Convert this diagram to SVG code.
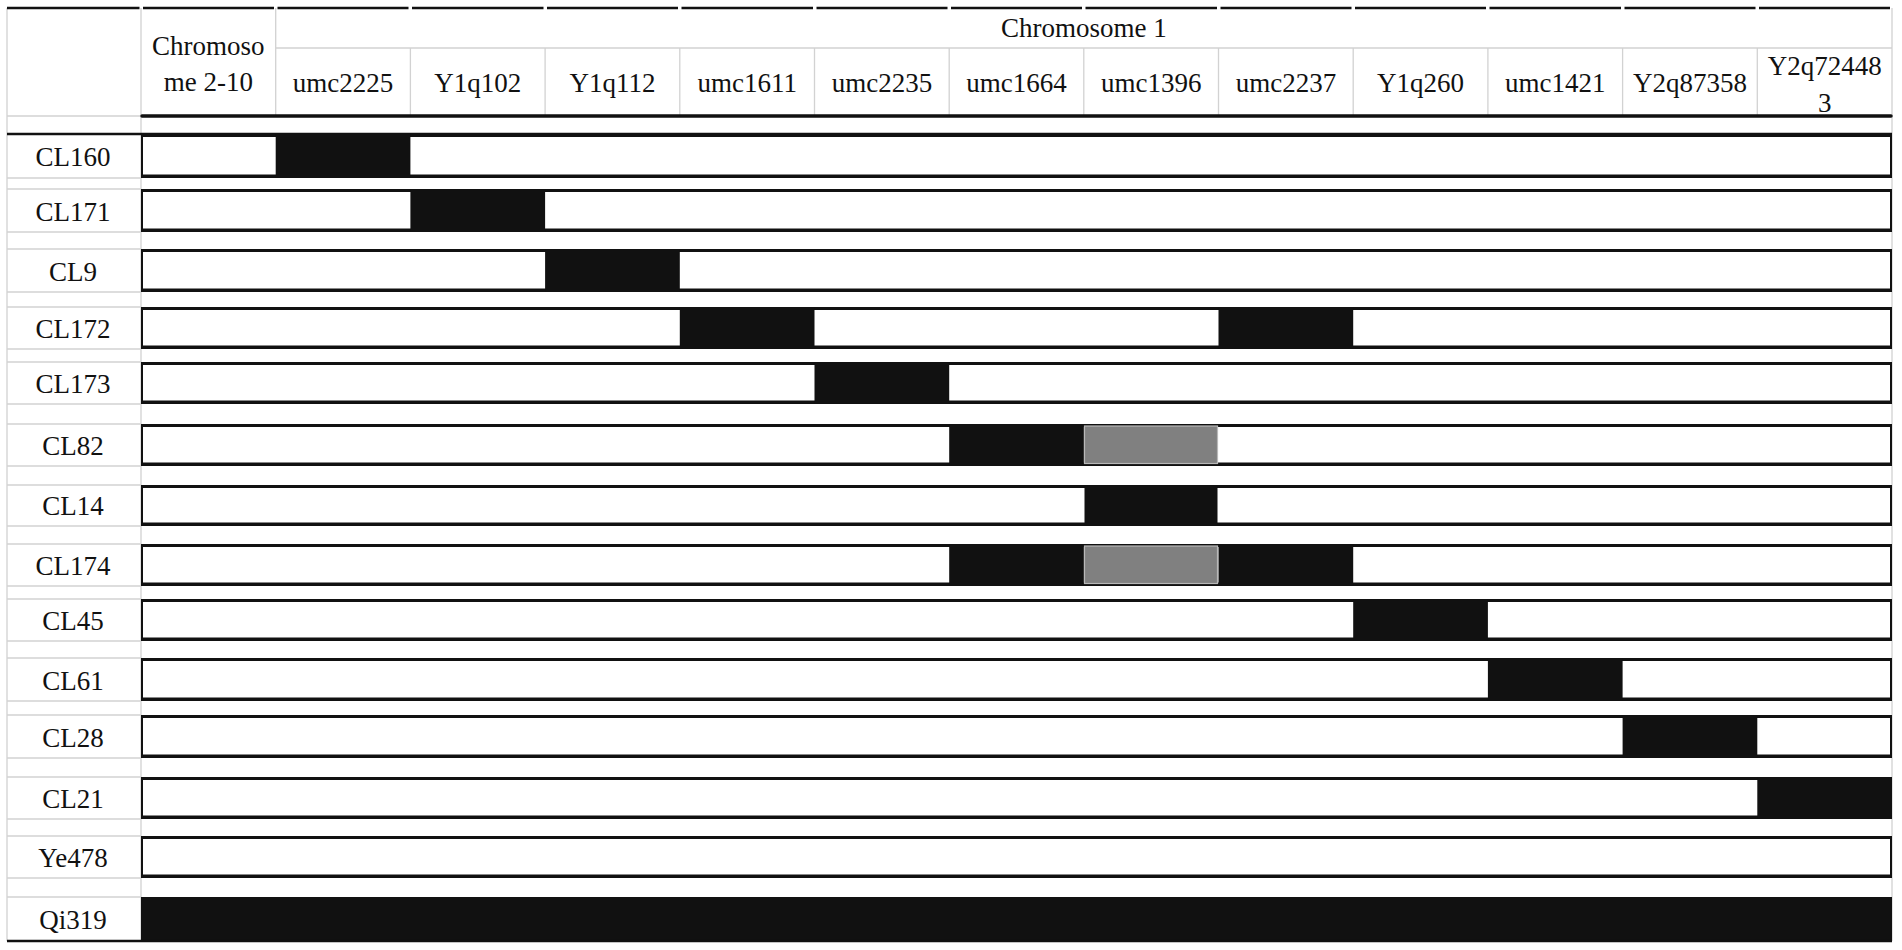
<svg xmlns="http://www.w3.org/2000/svg" width="1902" height="950" viewBox="0 0 1902 950">
<style>
text{font-family:"Liberation Serif","Times New Roman",serif;font-size:27px;fill:#111;text-anchor:middle}
.g{stroke:#d2d2d2;stroke-width:1.3;fill:none}
.k{stroke:#111;fill:none}
.bo{fill:#111}
.bi{fill:#fff}
.blk{fill:#111}
.gry{fill:#808080;stroke:#b8b8b8;stroke-width:1.2}
</style>
<rect x="0" y="0" width="1902" height="950" fill="#fff"/>
<g id="grid">
<path class="g" d="M7 8V941M141 8V941M1892 8V941M275.7 8V116M275.7 48H1892M410.4 48V116M545.1 48V116M679.8 48V116M814.5 48V116M949.2 48V116M1083.8 48V116M1218.5 48V116M1353.2 48V116M1487.9 48V116M1622.6 48V116M1757.3 48V116"/>
<path class="g" d="M7 116H141M7 178H141M7 189H141M7 232H141M7 249H141M7 292H141M7 307H141M7 349H141M7 362H141M7 404H141M7 424H141M7 466H141M7 485H141M7 526H141M7 544H141M7 586H141M7 599H141M7 641H141M7 658H141M7 701H141M7 715H141M7 758H141M7 777H141M7 819H141M7 836H141M7 878H141M7 897H141"/>
<path class="k" stroke-width="2.5" d="M7 8H139.5M143 8H274M277.5 8H408.5M412 8H543.5M547 8H678M681.5 8H813M816.5 8H947.5M951 8H1082M1085.5 8H1217M1220.5 8H1351.5M1355 8H1486M1489.5 8H1621M1624.5 8H1755.5M1759 8H1890"/>
</g>
<g id="header" font-family="Liberation Serif, Times New Roman, serif">
<text x="208.3" y="55">Chromoso</text>
<text x="208.3" y="91">me 2-10</text>
<text x="1083.8" y="37">Chromosome 1</text>
<text x="343" y="92">umc2225</text>
<text x="477.7" y="92">Y1q102</text>
<text x="612.4" y="92">Y1q112</text>
<text x="747.2" y="92">umc1611</text>
<text x="881.9" y="92">umc2235</text>
<text x="1016.5" y="92">umc1664</text>
<text x="1151.2" y="92">umc1396</text>
<text x="1285.9" y="92">umc2237</text>
<text x="1420.6" y="92">Y1q260</text>
<text x="1555.3" y="92">umc1421</text>
<text x="1690" y="92">Y2q87358</text>
<text x="1824.7" y="75">Y2q72448</text>
<text x="1824.7" y="112">3</text>
<path class="k" stroke-width="3.5" stroke-linecap="round" d="M142 116H1891"/>
<path class="k" stroke-width="2.5" d="M7 134H1892"/>
</g>
<g id="row-CL160">
<text x="73" y="166">CL160</text>
<rect class="bo" x="141" y="134" width="1751" height="44"/>
<rect class="bi" x="143" y="137" width="1747" height="37.5"/>
<rect class="blk" x="275.7" y="134" width="134.7" height="44"/>
</g>
<g id="row-CL171">
<text x="73" y="221">CL171</text>
<rect class="bo" x="141" y="189" width="1751" height="43"/>
<rect class="bi" x="143" y="192" width="1747" height="36.5"/>
<rect class="blk" x="410.4" y="189" width="134.7" height="43"/>
</g>
<g id="row-CL9">
<text x="73" y="281">CL9</text>
<rect class="bo" x="141" y="249" width="1751" height="43"/>
<rect class="bi" x="143" y="252" width="1747" height="36.5"/>
<rect class="blk" x="545.1" y="249" width="134.7" height="43"/>
</g>
<g id="row-CL172">
<text x="73" y="338">CL172</text>
<rect class="bo" x="141" y="307" width="1751" height="42"/>
<rect class="bi" x="143" y="310" width="1747" height="35.5"/>
<rect class="blk" x="679.8" y="307" width="134.7" height="42"/>
<rect class="blk" x="1218.5" y="307" width="134.7" height="42"/>
</g>
<g id="row-CL173">
<text x="73" y="393">CL173</text>
<rect class="bo" x="141" y="362" width="1751" height="42"/>
<rect class="bi" x="143" y="365" width="1747" height="35.5"/>
<rect class="blk" x="814.5" y="362" width="134.7" height="42"/>
</g>
<g id="row-CL82">
<text x="73" y="455">CL82</text>
<rect class="bo" x="141" y="424" width="1751" height="42"/>
<rect class="bi" x="143" y="427" width="1747" height="35.5"/>
<rect class="blk" x="949.2" y="424" width="134.7" height="42"/>
<rect class="gry" x="1084.5" y="426" width="133" height="37.5"/>
</g>
<g id="row-CL14">
<text x="73" y="515">CL14</text>
<rect class="bo" x="141" y="485" width="1751" height="41"/>
<rect class="bi" x="143" y="488" width="1747" height="34.5"/>
<rect class="blk" x="1084.5" y="486" width="133" height="39"/>
</g>
<g id="row-CL174">
<text x="73" y="575">CL174</text>
<rect class="bo" x="141" y="544" width="1751" height="42"/>
<rect class="bi" x="143" y="547" width="1747" height="35.5"/>
<rect class="blk" x="949.2" y="544" width="134.7" height="42"/>
<rect class="blk" x="1218.5" y="544" width="134.7" height="42"/>
<rect class="gry" x="1084.5" y="546" width="133" height="37.5"/>
</g>
<g id="row-CL45">
<text x="73" y="630">CL45</text>
<rect class="bo" x="141" y="599" width="1751" height="42"/>
<rect class="bi" x="143" y="602" width="1747" height="35.5"/>
<rect class="blk" x="1353.2" y="599" width="134.7" height="42"/>
</g>
<g id="row-CL61">
<text x="73" y="690">CL61</text>
<rect class="bo" x="141" y="658" width="1751" height="43"/>
<rect class="bi" x="143" y="661" width="1747" height="36.5"/>
<rect class="blk" x="1487.9" y="658" width="134.7" height="43"/>
</g>
<g id="row-CL28">
<text x="73" y="747">CL28</text>
<rect class="bo" x="141" y="715" width="1751" height="43"/>
<rect class="bi" x="143" y="718" width="1747" height="36.5"/>
<rect class="blk" x="1622.6" y="715" width="134.7" height="43"/>
</g>
<g id="row-CL21">
<text x="73" y="808">CL21</text>
<rect class="bo" x="141" y="777" width="1751" height="42"/>
<rect class="bi" x="143" y="780" width="1747" height="35.5"/>
<rect class="blk" x="1757.3" y="777" width="134.7" height="42"/>
</g>
<g id="row-Ye478">
<text x="73" y="867">Ye478</text>
<rect class="bo" x="141" y="836" width="1751" height="42"/>
<rect class="bi" x="143" y="839" width="1747" height="35.5"/>
</g>
<g id="row-Qi319">
<text x="73" y="929">Qi319</text>
<rect class="blk" x="141" y="897" width="1751" height="44"/>
<path class="k" stroke-width="2.5" d="M7 941H1892"/>
</g>
</svg>
